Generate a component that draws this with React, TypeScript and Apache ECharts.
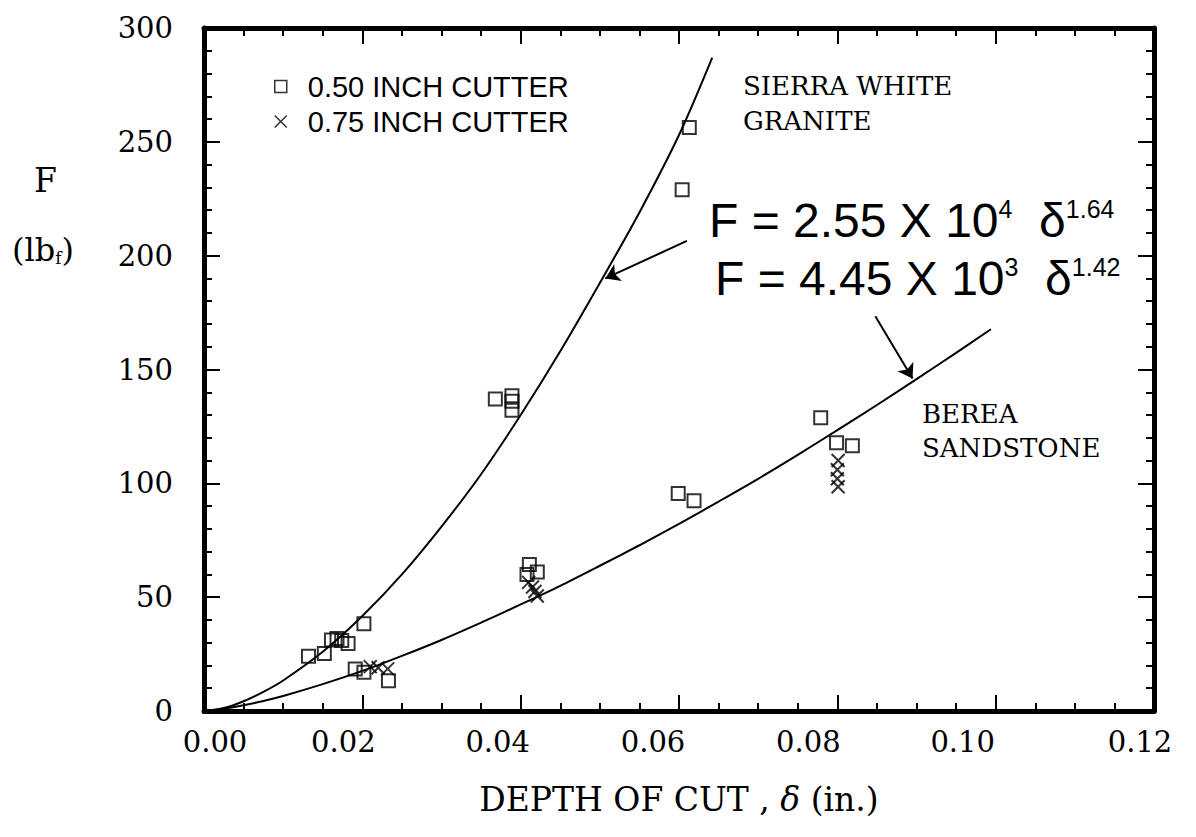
import React, { useEffect, useRef } from 'react';
import * as echarts from 'echarts';

// ---------- data ----------
const xTickLabels = ['0.00', '0.02', '0.04', '0.06', '0.08', '0.10', '0.12'];
const yTickLabels = ['0', '50', '100', '150', '200', '250', '300'];

// 0.50 inch cutter, Sierra White granite
const graniteSquares: [number, number][] = [
  [0.0132, 24.0], [0.0152, 25.3], [0.0161, 31.2], [0.0168, 31.8], [0.0174, 31.0],
  [0.0182, 29.6], [0.0202, 38.3],
  [0.0368, 137.0], [0.0389, 138.5], [0.0389, 136.0], [0.0389, 132.1],
  [0.0604, 228.9], [0.0613, 256.3],
];
// 0.50 inch cutter, Berea sandstone
const bereaSquares: [number, number][] = [
  [0.0191, 18.5], [0.0202, 17.0], [0.0233, 13.3],
  [0.0411, 64.3], [0.0421, 61.1], [0.0408, 60.0],
  [0.0599, 95.5], [0.0619, 92.4],
  [0.0779, 128.8], [0.0799, 117.8], [0.0819, 116.5],
];
// 0.75 inch cutter, Berea sandstone
const bereaCrosses: [number, number][] = [
  [0.0210, 19.5], [0.0220, 19.0], [0.0232, 18.5],
  [0.0410, 56.5], [0.0415, 54.5], [0.0418, 52.5], [0.0421, 50.5],
  [0.0801, 110.0], [0.0800, 106.0], [0.0800, 102.0], [0.0801, 98.5],
];
// fitted curves
const graniteCurve: [number, number][] = [
  [0, 0], [0.0025, 1.3], [0.005, 4.3], [0.0075, 8.4], [0.01, 13.4], [0.015, 26], [0.02, 41.7],
  [0.025, 60], [0.03, 81], [0.035, 104], [0.04, 130], [0.045, 158], [0.05, 188], [0.055, 219],
  [0.06, 253], [0.0642, 287],
];
const bereaCurve: [number, number][] = [
  [0, 0], [0.0025, 0.9], [0.005, 2.5], [0.0075, 4.4], [0.01, 6.6], [0.015, 11.8], [0.02, 17.6],
  [0.025, 24.2], [0.03, 31.2], [0.035, 38.8], [0.04, 46.8], [0.045, 55], [0.05, 63.8],
  [0.055, 72.8], [0.06, 82.2], [0.065, 92], [0.07, 102], [0.075, 112.5], [0.08, 123.4],
  [0.085, 134.4], [0.09, 145.8], [0.095, 157.3], [0.0994, 167.7],
];
const graniteArrow: [number, number][] = [[0.0610, 206.5], [0.0507, 190]];
const bereaArrow: [number, number][] = [[0.0848, 173.4], [0.0895, 146]];

const seriesNames = ['0.50 INCH CUTTER', '0.75 INCH CUTTER'];

// ---------- styling ----------
const SERIF = 'DejaVu Serif';
const SANS = 'Liberation Sans';
const CROSS = 'path://M0,0L10,10M10,0L0,10';
const xLabelShift = [11, -19, -23, -26, -29, -33, -14];

export default function App() {
  const ref = useRef<HTMLDivElement>(null);

  useEffect(() => {
    if (!ref.current) return;
    const chart = echarts.init(ref.current, null, { renderer: 'svg' });

    const rich: Record<string, any> = {};
    xLabelShift.forEach((d, i) => {
      rich['p' + i] = {
        fontFamily: SERIF,
        fontSize: 29,
        color: '#000',
        padding: d > 0 ? [0, 0, 0, 2 * d] : [0, -2 * d, 0, 0],
      };
    });

    const axisLineStyle = { show: true, onZero: false, lineStyle: { color: '#000', width: 5 } };
    const tick = { show: true, inside: true, length: 16, lineStyle: { color: '#000', width: 2 } };
    const minor = (n: number) => ({ show: true, splitNumber: n, length: 8, lineStyle: { color: '#000', width: 2 } });

    const supRich = { s: { fontFamily: SANS, fontSize: 25, verticalAlign: 'top', fill: '#000' } };

    const option: any = {
      animation: false,
      backgroundColor: '#fff',
      grid: { left: 204, right: 42, top: 28, bottom: 126, containLabel: false },
      xAxis: [
        {
          type: 'value', position: 'bottom', min: 0, max: 0.12, interval: 0.02,
          axisLine: axisLineStyle, axisTick: tick, minorTick: minor(4),
          splitLine: { show: false },
          axisLabel: {
            margin: 16,
            formatter: (v: number) => {
              const i = Math.round(v / 0.02);
              return `{p${i}|${xTickLabels[i]}}`;
            },
            rich,
          },
          name: 'DEPTH OF CUT , {i|δ} (in.)',
          nameLocation: 'middle',
          nameGap: 72,
          nameTextStyle: {
            fontFamily: SERIF, fontSize: 33, color: '#000',
            rich: { i: { fontFamily: SERIF, fontStyle: 'italic', fontSize: 33, color: '#000' } },
          },
        },
        {
          type: 'value', position: 'top', min: 0, max: 0.12, interval: 0.02,
          axisLine: axisLineStyle, axisTick: tick, minorTick: minor(4),
          splitLine: { show: false }, axisLabel: { show: false },
        },
      ],
      yAxis: [
        {
          type: 'value', position: 'left', min: 0, max: 300, interval: 50,
          axisLine: axisLineStyle, axisTick: tick, minorTick: minor(5),
          splitLine: { show: false },
          axisLabel: {
            margin: 31, fontFamily: SERIF, fontSize: 29, color: '#000',
            formatter: (v: number) => yTickLabels[Math.round(v / 50)],
          },
        },
        {
          type: 'value', position: 'right', min: 0, max: 300, interval: 50,
          axisLine: axisLineStyle, axisTick: tick, minorTick: minor(5),
          splitLine: { show: false }, axisLabel: { show: false },
        },
      ],
      legend: {
        orient: 'vertical', left: 269, top: 67, itemWidth: 12, itemHeight: 12, itemGap: 6,
        data: [
          { name: seriesNames[0], icon: 'rect' },
          { name: seriesNames[1], icon: CROSS },
        ],
        itemStyle: { color: 'transparent', borderColor: '#000', borderWidth: 1.5 },
        textStyle: { fontFamily: SANS, fontSize: 29, color: '#000', padding: [0, 0, 0, 16] },
        selectedMode: false,
      },
      series: [
        {
          name: 'granite fit', type: 'line', data: graniteCurve, showSymbol: false,
          smooth: 0.3, lineStyle: { color: '#000', width: 2 },
        },
        {
          name: 'berea fit', type: 'line', data: bereaCurve, showSymbol: false,
          smooth: 0.3, lineStyle: { color: '#000', width: 2 },
        },
        {
          name: seriesNames[0], type: 'scatter', data: [...graniteSquares, ...bereaSquares],
          symbol: 'rect', symbolSize: 13,
          itemStyle: { color: 'transparent', borderColor: '#000', borderWidth: 2 },
        },
        {
          name: seriesNames[1], type: 'scatter', data: bereaCrosses,
          symbol: CROSS, symbolSize: 13,
          itemStyle: { color: 'transparent', borderColor: '#000', borderWidth: 2 },
        },
        {
          name: 'arrows', type: 'lines', coordinateSystem: 'cartesian2d',
          data: [{ coords: graniteArrow }, { coords: bereaArrow }],
          symbol: ['none', 'arrow'], symbolSize: 14,
          lineStyle: { color: '#000', width: 2, opacity: 1 },
        },
      ],
      graphic: [
        {
          type: 'text', left: 34, top: 164,
          style: { text: 'F', fontFamily: SERIF, fontSize: 33, fill: '#000' },
        },
        {
          type: 'text', left: 12, top: 234,
          style: {
            text: '(lb{s|f})', fontFamily: SERIF, fontSize: 32, fill: '#000',
            rich: { s: { fontFamily: SERIF, fontSize: 17, verticalAlign: 'bottom', fill: '#000' } },
          },
        },
        {
          type: 'text', left: 743, top: 68,
          style: { text: 'SIERRA WHITE\nGRANITE', fontFamily: SERIF, fontSize: 26, lineHeight: 35, fill: '#000' },
        },
        {
          type: 'text', left: 922, top: 397,
          style: { text: 'BEREA\nSANDSTONE', fontFamily: SERIF, fontSize: 26, lineHeight: 34, fill: '#000' },
        },
        {
          type: 'text', left: 709, top: 196,
          style: {
            text: 'F = 2.55 X 10{s|4}  δ{s|1.64}', fontFamily: SANS, fontSize: 48, fill: '#000',
            rich: supRich,
          },
        },
        {
          type: 'text', left: 715, top: 254,
          style: {
            text: 'F = 4.45 X 10{s|3}  δ{s|1.42}', fontFamily: SANS, fontSize: 48, fill: '#000',
            rich: supRich,
          },
        },
      ],
    };

    chart.setOption(option);
    return () => chart.dispose();
  }, []);

  return (
    <div
      ref={ref}
      style={{ position: 'absolute', left: 0, top: 0, width: 1196, height: 837, background: '#fff' }}
    />
  );
}
